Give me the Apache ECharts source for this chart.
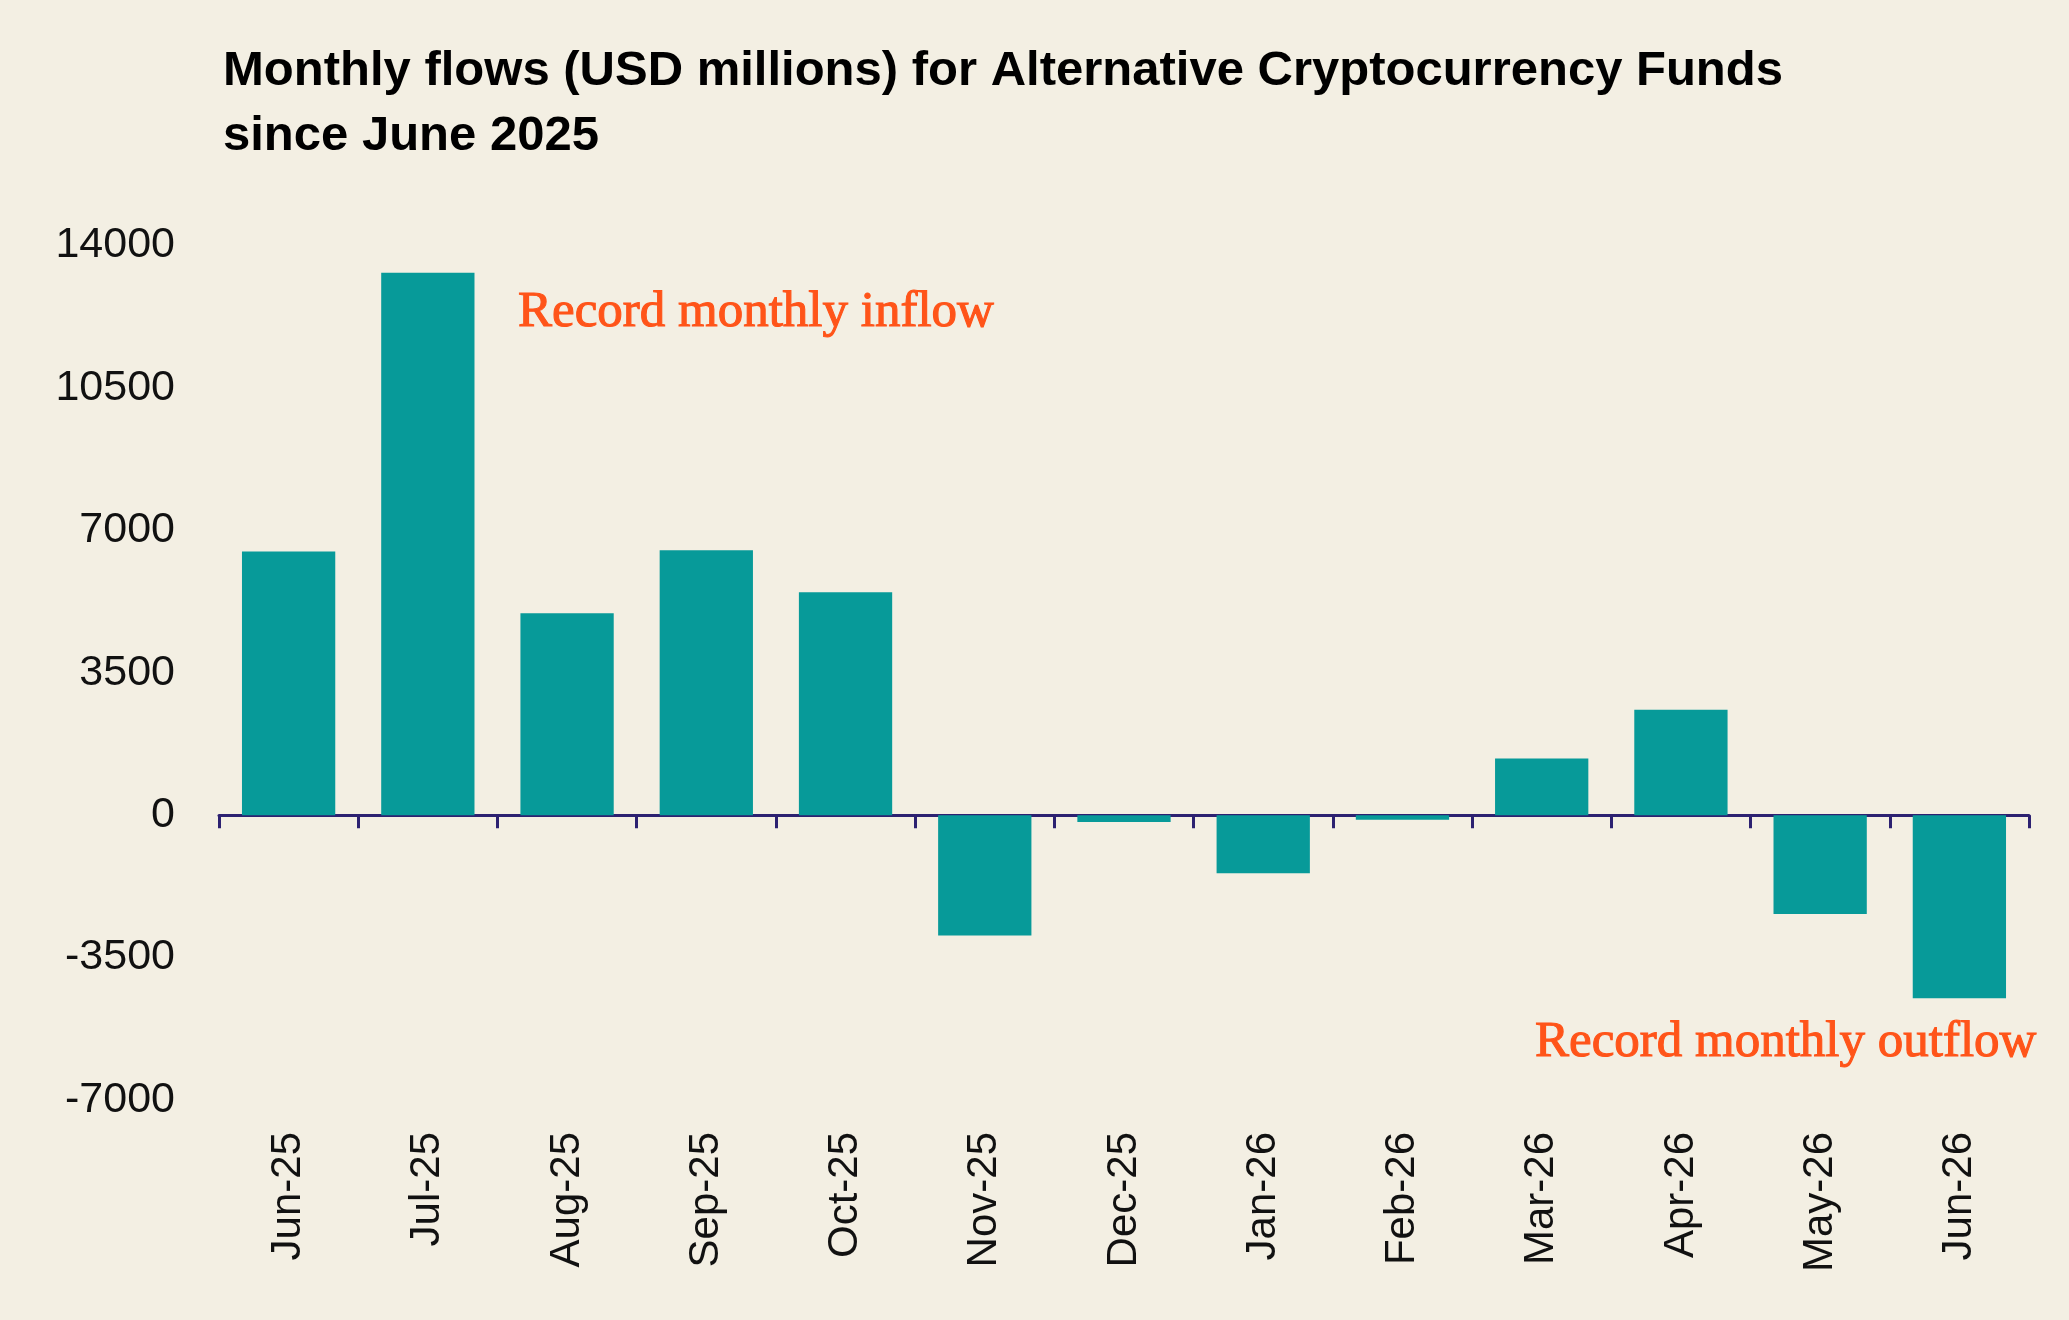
<!DOCTYPE html>
<html>
<head>
<meta charset="utf-8">
<title>Monthly flows - Alternative Cryptocurrency Funds</title>
<script src="https://cdn.jsdelivr.net/npm/echarts@6/dist/echarts.min.js"></script>
<style>
  html, body { margin: 0; padding: 0; background: #f3efe3; }
  .chart { width: 2069px; height: 1320px; }
</style>
</head>
<body>
<div class="chart"></div>
<script>
// ---------------------- BEGIN DATA ---------------------
var months = [
  'Jun-25', 'Jul-25', 'Aug-25', 'Sep-25', 'Oct-25', 'Nov-25', 'Dec-25',
  'Jan-26', 'Feb-26', 'Mar-26', 'Apr-26', 'May-26', 'Jun-26'
];
// USD millions
var flows = [6480, 13330, 4960, 6510, 5480, -2960, -170, -1430, -110, 1390, 2590, -2430, -4500];
var yTicks = [-7000, -3500, 0, 3500, 7000, 10500, 14000];
var titleText = 'Monthly flows (USD millions) for Alternative Cryptocurrency Funds\nsince June 2025';
var noteInflow = 'Record monthly inflow';
var noteOutflow = 'Record monthly outflow';
// ----------------------- END DATA ----------------------

var chartSelf = (function () {
  var
    configMap = {
      bg      : '#f3efe3',
      bar     : '#079a99',
      axis    : '#2c2171',
      note    : '#ff5419',
      sans    : '"Liberation Sans", Arial, sans-serif',
      serif   : '"Liberation Serif", "Times New Roman", serif'
    },
    renderChart, noteText
  ;

  // one orange serif annotation
  noteText = function (txt, x, y) {
    return {
      type : 'text',
      silent : true,
      style : {
        x : x, y : y,
        text : txt,
        fill : configMap.note,
        stroke : configMap.note,
        lineWidth : 1.1,
        font : '51px ' + configMap.serif,
        textVerticalAlign : 'middle'
      }
    };
  };

  renderChart = function () {
    var myChart, option;

    myChart = echarts.init(document.getElementsByClassName('chart')[0], null, { renderer : 'canvas' });

    option = {
      backgroundColor : configMap.bg,
      animation : false,
      title : {
        text : titleText,
        left : 218,
        top : 34,
        textStyle : {
          fontFamily : configMap.sans,
          fontWeight : 'bold',
          fontSize : 49,
          lineHeight : 65,
          color : '#000'
        }
      },
      grid : {
        left : 219, right : 40, top : 245.5, bottom : 220,
        containLabel : false,
        outerBoundsMode : 'none'
      },
      xAxis : [{
        // zero line with boundary ticks
        type : 'category',
        data : months,
        position : 'bottom',
        axisLine : { onZero : true, lineStyle : { color : configMap.axis, width : 3 } },
        axisTick : { show : true, length : 13, lineStyle : { color : configMap.axis, width : 3 } },
        axisLabel : { show : false },
        splitLine : { show : false }
      }, {
        // month labels along the bottom of the grid
        type : 'category',
        data : months,
        position : 'bottom',
        axisLine : { show : false, onZero : false },
        axisTick : { show : false },
        axisLabel : {
          interval : 0,
          rotate : 90,
          margin : 32,
          fontFamily : configMap.sans,
          fontSize : 42,
          color : '#111'
        },
        splitLine : { show : false }
      }],
      yAxis : {
        type : 'value',
        min : yTicks[0],
        max : yTicks[yTicks.length - 1],
        interval : yTicks[1] - yTicks[0],
        axisLine : { show : false },
        axisTick : { show : false },
        splitLine : { show : false },
        axisLabel : {
          margin : 44,
          fontFamily : configMap.sans,
          fontSize : 43,
          color : '#111',
          formatter : function (v) { return String(v); }
        }
      },
      series : [{
        type : 'bar',
        data : flows,
        xAxisIndex : 0,
        barCategoryGap : '33%',
        itemStyle : { color : configMap.bar },
        silent : true
      }],
      graphic : [
        noteText(noteInflow, 518, 313),
        noteText(noteOutflow, 1535, 1043)
      ]
    };

    myChart.setOption(option);
  };

  return { renderChart : renderChart };
}());

chartSelf.renderChart();
</script>
</body>
</html>
